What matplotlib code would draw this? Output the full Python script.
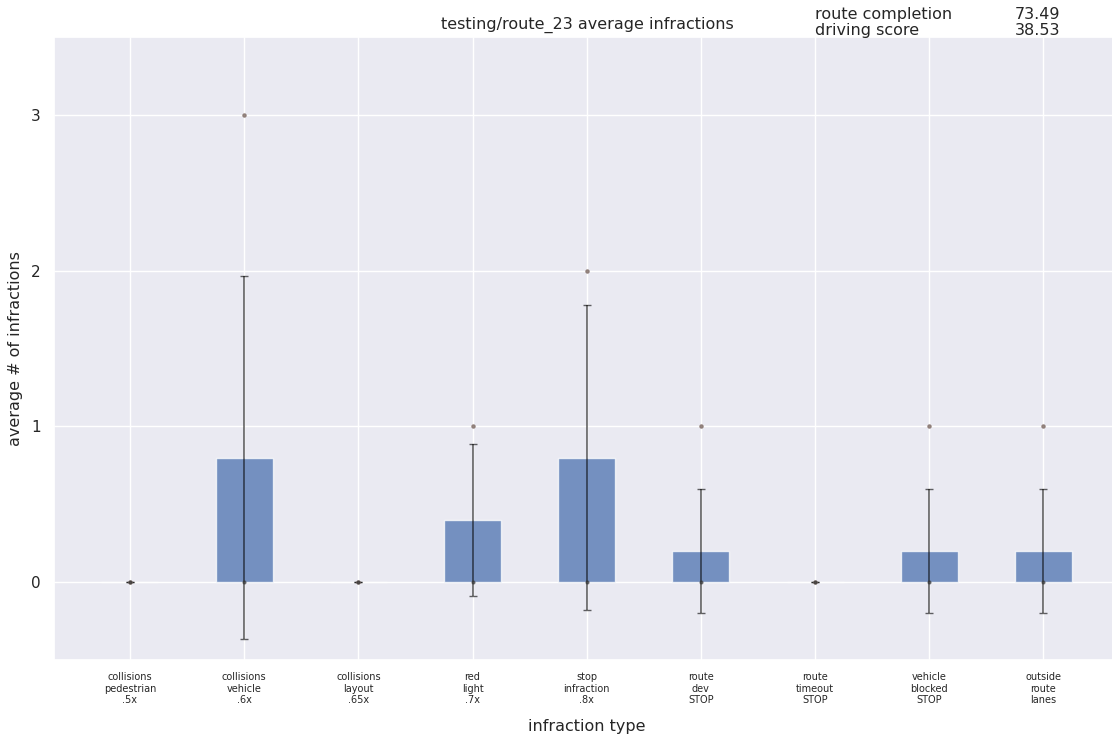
import numpy as np
import matplotlib.pyplot as plt
import seaborn as sns

sns.set_theme(style='darkgrid')

# infraction categories and per-category stats over the runs
labels = ['collisions\npedestrian\n.5x', 'collisions\nvehicle\n.6x', 'collisions\nlayout\n.65x',
          'red\nlight\n.7x', 'stop\ninfraction\n.8x', 'route\ndev\nSTOP',
          'route\ntimeout\nSTOP', 'vehicle\nblocked\nSTOP', 'outside\nroute\nlanes']
means = [0.0, 0.8, 0.0, 0.4, 0.8, 0.2, 0.0, 0.2, 0.2]
stds = [0.0, 1.166, 0.0, 0.49, 0.98, 0.4, 0.0, 0.4, 0.4]
maxes = [0, 3, 0, 1, 2, 1, 0, 1, 1]
mins = [0, 0, 0, 0, 0, 0, 0, 0, 0]
route_completion = 73.49
driving_score = 38.53

fig = plt.figure(figsize=(11.12, 7.4), dpi=100)
ax = fig.add_axes([54 / 1112, 80 / 740, 1066 / 1112, 623 / 740])

x = np.arange(len(labels))
ax.bar(x, means, width=0.5, color=sns.color_palette('deep')[0], alpha=0.75)
ax.errorbar(x, means, yerr=stds, fmt='none', ecolor='black', alpha=0.6, capsize=3, elinewidth=1.2)
ax.scatter(x, maxes, s=5, color='#8c7b75', alpha=0.9, zorder=3)
ax.scatter(x, mins, s=4, color='#333333', alpha=0.6, zorder=3)

ax.set_xlim(-0.665, 8.67)
ax.set_ylim(-0.5, 3.5)
ax.set_yticks([0, 1, 2, 3])
ax.set_xticks(x)
ax.set_xticklabels(labels, fontsize=7, linespacing=1.15)
ax.tick_params(axis='y', labelsize=11)
ax.tick_params(axis='x', pad=3)
ax.set_xlabel('infraction type', fontsize=11.5, labelpad=10)
ax.set_ylabel('average # of infractions', fontsize=11.5, labelpad=6)
ax.set_title('testing/route_23 average infractions', fontsize=11.5, pad=6)

fig.text(815 / 1112, 1 - 7 / 740, 'route completion\ndriving score', fontsize=11.5,
         va='top', ha='left', linespacing=1.05)
fig.text(1060 / 1112, 1 - 7 / 740, f'{route_completion:.2f}\n{driving_score:.2f}', fontsize=11.5,
         va='top', ha='right', linespacing=1.05)

fig.savefig('out.png', dpi=100)
